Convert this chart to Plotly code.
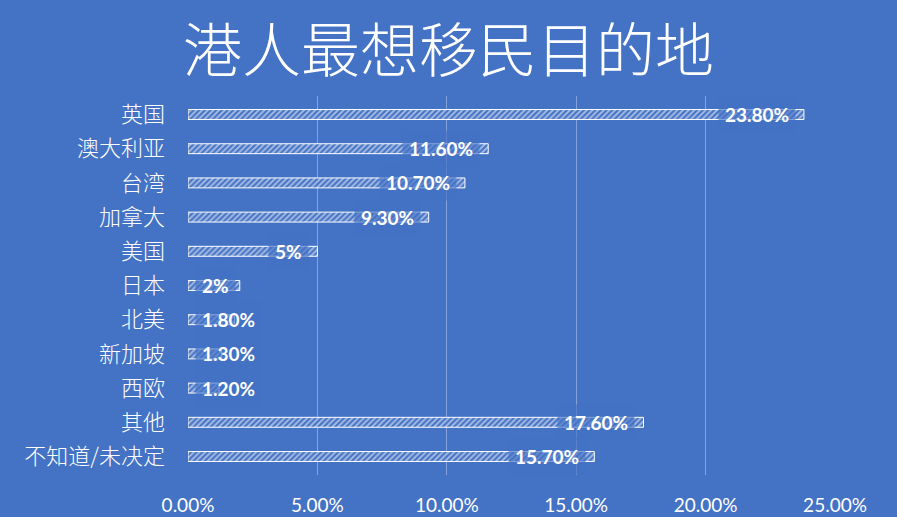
import plotly.graph_objects as go

categories = ["英国", "澳大利亚", "台湾", "加拿大", "美国", "日本", "北美", "新加坡", "西欧", "其他", "不知道/未决定"]
values = [23.8, 11.6, 10.7, 9.3, 5, 2, 1.8, 1.3, 1.2, 17.6, 15.7]
labels = ["23.80%", "11.60%", "10.70%", "9.30%", "5%", "2%", "1.80%", "1.30%", "1.20%", "17.60%", "15.70%"]
x_ticks = [0, 5, 10, 15, 20, 25]
x_tick_text = ["0.00%", "5.00%", "10.00%", "15.00%", "20.00%", "25.00%"]
title_text = "港人最想移民目的地"

BG = "#4472C4"

fig = go.Figure()
fig.add_trace(go.Bar(
    x=values, y=categories, orientation="h", width=0.29,
    marker=dict(color=BG,
                pattern=dict(shape="/", fgcolor="white", bgcolor=BG, size=4, solidity=0.5),
                line=dict(width=1, color="white")),
    hoverinfo="skip",
))

annotations = []
for cat, v, lab in zip(categories, values, labels):
    big = v >= 3
    annotations.append(dict(
        x=v if big else 0, y=cat, xref="x", yref="y", text=lab, showarrow=False,
        xanchor="right" if big else "left", xshift=-8 if big else 7, borderpad=6,
        bgcolor="rgba(68,114,196,0.65)",
        font=dict(family="Lato", size=19, color="white", weight="bold")))

fig.update_layout(
    width=897, height=517, autosize=False,
    paper_bgcolor=BG, plot_bgcolor=BG,
    margin=dict(l=188, r=62, t=96, b=42, autoexpand=False),
    showlegend=False,
    title=dict(text=title_text, x=0.5, xanchor="center", y=0.9, yanchor="middle",
               font=dict(family="Noto Sans CJK SC", size=59, color="white", weight=300)),
    xaxis=dict(range=[0, 25], tickvals=x_ticks, ticktext=x_tick_text,
               showgrid=True, gridcolor="rgba(255,255,255,0.35)", gridwidth=1,
               zeroline=False, showline=False, ticks="", automargin=False,
               tickfont=dict(family="Lato", size=19, color="white"),
               ticklabelstandoff=17, fixedrange=True),
    yaxis=dict(autorange="reversed", showgrid=False, zeroline=False, showline=False, ticks="",
               automargin=False,
               tickfont=dict(family="Noto Sans CJK SC", size=22, color="white", weight=300),
               ticklabelstandoff=22, fixedrange=True),
    annotations=annotations,
)

fig.write_html("out.html",
               config={"displayModeBar": False, "responsive": False},
               post_script="document.body.style.margin='0';document.body.style.overflow='hidden';document.body.style.background='#4472C4';")
